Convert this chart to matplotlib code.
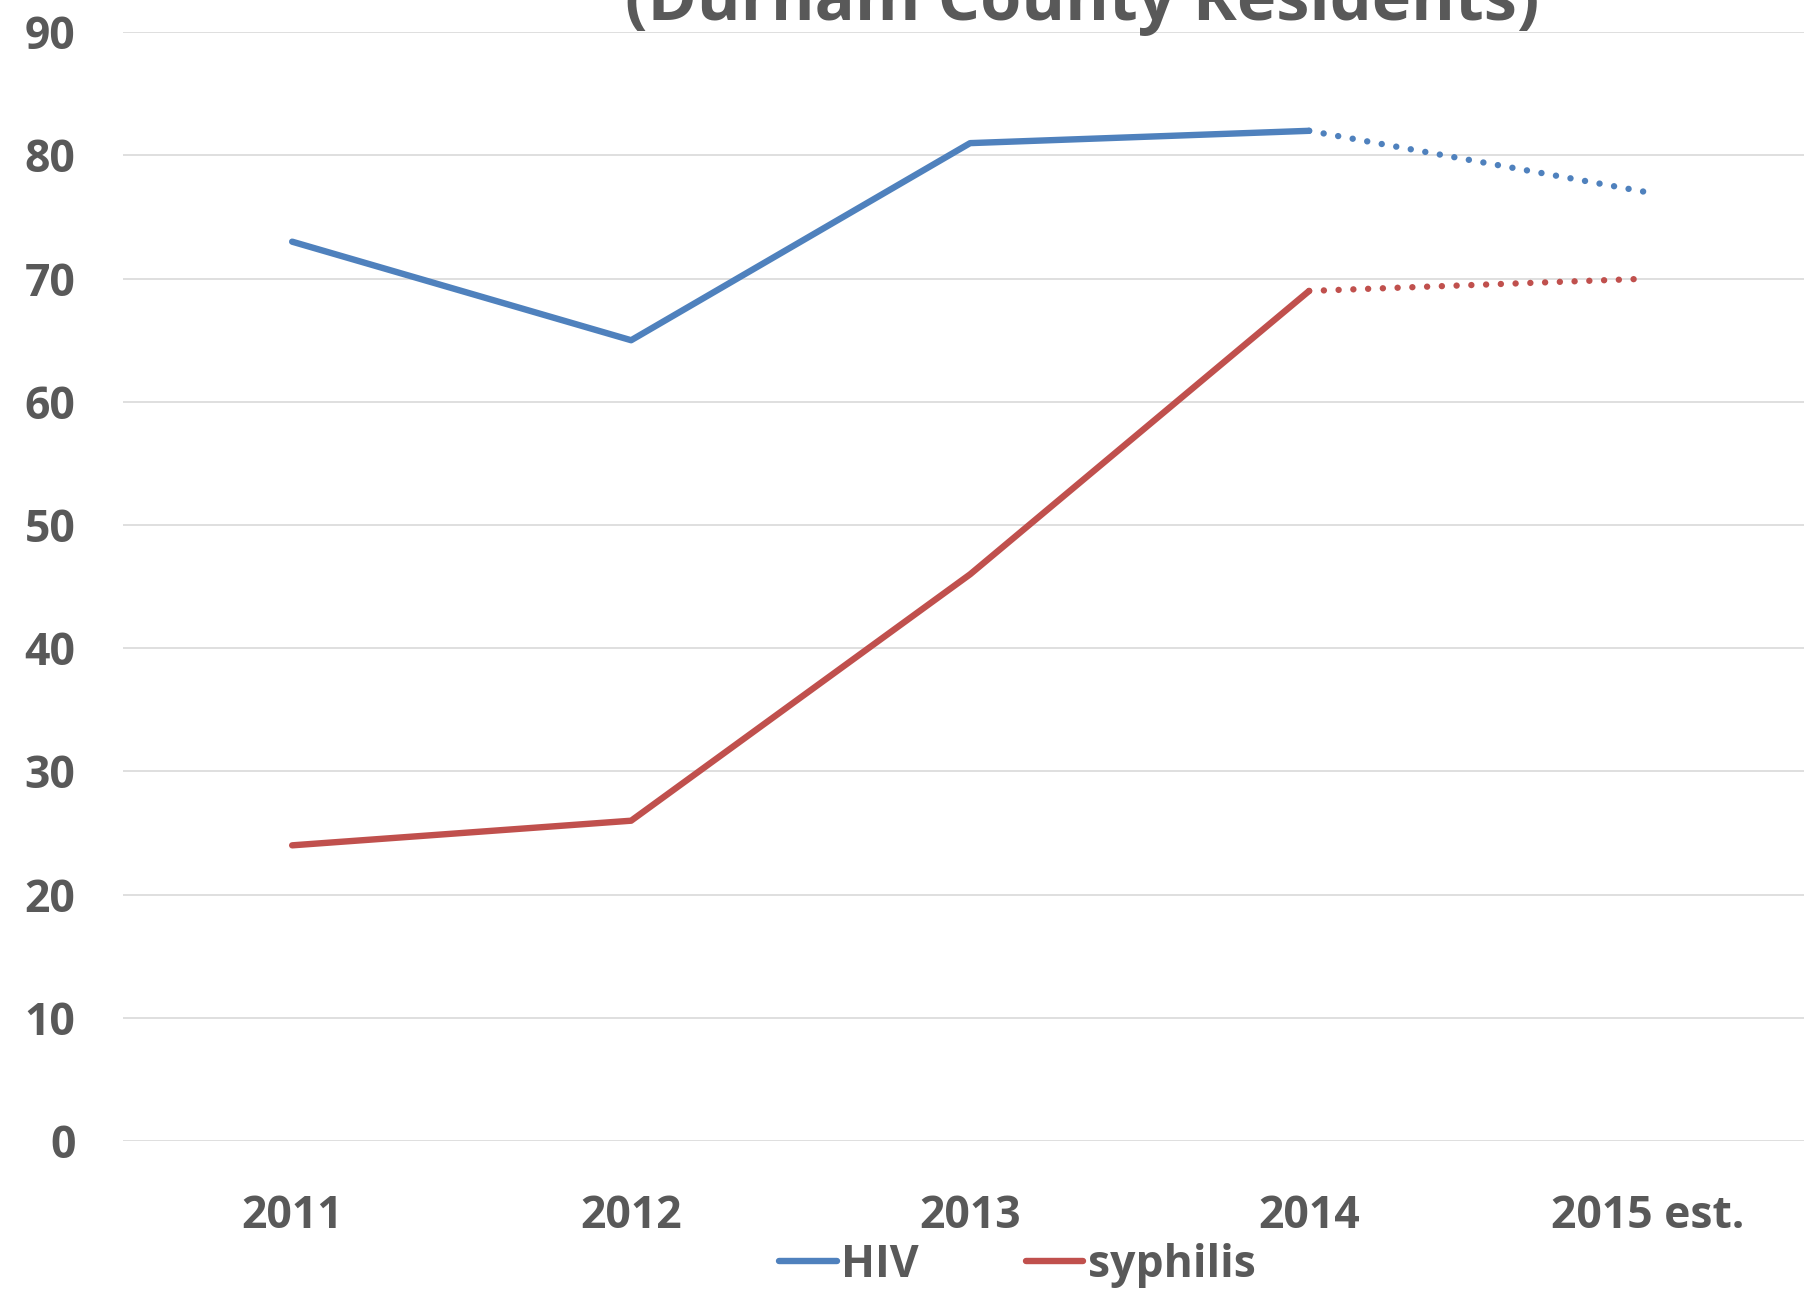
import matplotlib
matplotlib.use("Agg")
import matplotlib.pyplot as plt
from matplotlib.lines import Line2D

years = ["2011", "2012", "2013", "2014", "2015 est."]
hiv = [73, 65, 81, 82, 77]
syphilis = [24, 26, 46, 69, 70]
title_line = "(Durham County Residents)"

blue = "#4F81BD"
red = "#C0504D"
gray = "#595959"
plt.rcParams["font.family"] = ["Open Sans", "DejaVu Sans"]
plt.rcParams["font.weight"] = "bold"

fig = plt.figure(figsize=(18.04, 12.9), dpi=100)
ax = fig.add_axes([0.068, 0.1155, 0.932, 0.8595])

x = list(range(len(years)))
lw = 4.6
dots = (0, (0.01, 2.3))
# solid part for actual years, dotted for the estimate
ax.plot(x[:4], hiv[:4], color=blue, lw=lw, solid_capstyle="round")
ax.plot(x[3:], hiv[3:], color=blue, lw=lw, linestyle=dots, dash_capstyle="round")
ax.plot(x[:4], syphilis[:4], color=red, lw=lw, solid_capstyle="round")
ax.plot(x[3:], syphilis[3:], color=red, lw=lw, linestyle=dots, dash_capstyle="round")

ax.set_ylim(0, 90)
ax.set_xlim(-0.5, 4.46)
ax.set_yticks(range(0, 91, 10))
ax.set_xticks(x)
ax.set_xticklabels(years)
ax.grid(True, axis="y", color="#D9D9D9", lw=1.2)
ax.set_axisbelow(True)
for s in ax.spines.values():
    s.set_visible(False)
ax.tick_params(length=0, labelsize=32, labelcolor=gray)
ax.tick_params(axis="y", pad=34)
ax.tick_params(axis="x", pad=38)

fig.text(0.6, 1.0 - 20 / 1290, title_line, ha="center", va="baseline",
         fontsize=48, fontweight="bold", color=gray)

handles = [Line2D([], [], color=blue, lw=lw, solid_capstyle="round"),
           Line2D([], [], color=red, lw=lw, solid_capstyle="round")]
fig.legend(handles, ["HIV", "syphilis"], loc="center", bbox_to_anchor=(0.564, 0.019),
           ncol=2, frameon=False, fontsize=32, labelcolor=gray,
           handlelength=1.3, handletextpad=0.1, columnspacing=2.4)

fig.savefig("out.png", dpi=100)
